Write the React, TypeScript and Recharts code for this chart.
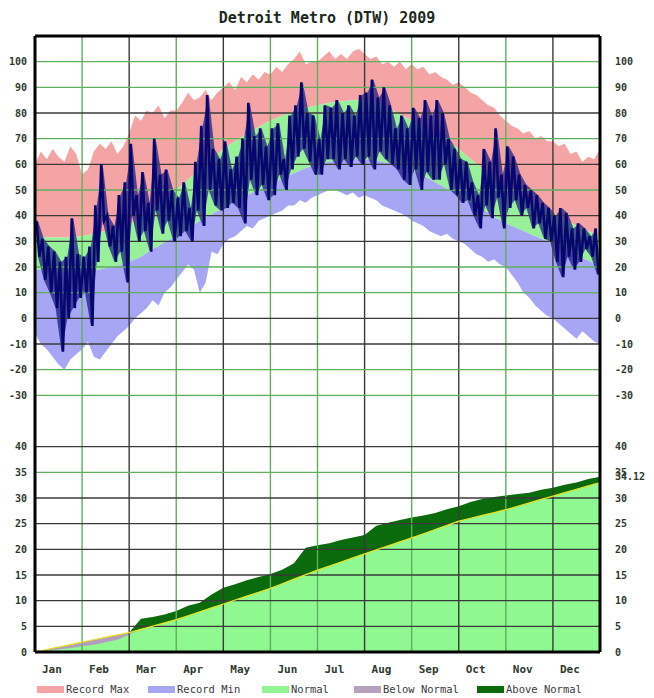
import React from 'react';
import { ComposedChart, XAxis, YAxis, Area, Line, ReferenceLine } from 'recharts';

const MONTHS = ['Jan', 'Feb', 'Mar', 'Apr', 'May', 'Jun', 'Jul', 'Aug', 'Sep', 'Oct', 'Nov', 'Dec'];
const MONTH_STARTS = [0, 1, 2, 3, 4, 5, 6, 7, 8, 9, 10, 11];
// grid colours of the month boundaries Feb..Dec
const MONTH_LINE = ['g', 'k', 'g', 'k', 'g', 'g', 'k', 'g', 'k', 'g', 'k'];

const TEMP_TICKS = [100, 90, 80, 70, 60, 50, 40, 30, 20, 10, 0, -10, -20, -30];
const TEMP_LINE = ['g', 'g', 'k', 'g', 'k', 'g', 'k', 'k', 'g', 'g', 'k', 'k', 'g', 'g'];
const PRECIP_TICKS = [40, 35, 30, 25, 20, 15, 10, 5];
const PRECIP_LINE = ['k', 'g', 'k', 'k', 'k', 'k', 'k', 'k'];
const PRECIP_TOTAL = 34.12;

// eight samples per month, Jan 1 .. Dec 31
const RECORD_MAX = [
  60, 65, 62, 66, 63, 61, 67, 64,
  56, 58, 65, 68, 66, 69, 64, 67,
  72, 79, 77, 81, 80, 83, 78, 81,
  81, 84, 88, 85, 86, 89, 85, 88,
  90, 92, 89, 94, 92, 95, 93, 96,
  95, 98, 96, 99, 101, 104, 99, 100,
  100, 102, 104, 101, 103, 101, 104, 105,
  103, 101, 102, 99, 100, 98, 100, 97,
  99, 97, 98, 95, 96, 94, 93, 91,
  92, 90, 88, 87, 85, 83, 82, 79,
  77, 75, 74, 72, 73, 70, 71, 69,
  69, 67, 68, 64, 65, 61, 63, 62, 66,
];
const RECORD_MIN = [
  -6, -10, -12, -15, -18, -20, -16, -14,
  -12, -9, -15, -16, -13, -10, -7, -5,
  -3, 0, 2, 4, 7, 5, 10, 12,
  15, 18, 21, 19, 10, 14, 26, 25,
  29, 31, 32, 34, 36, 35, 38, 39,
  40, 41, 42, 44, 44, 46, 45, 47,
  48, 49, 50, 50, 49, 48, 49, 47,
  48, 47, 46, 44, 43, 42, 41, 40,
  38, 37, 36, 34, 33, 32, 33, 31,
  30, 29, 27, 25, 24, 22, 23, 21,
  20, 17, 14, 10, 8, 5, 3, 1,
  0, -2, -4, -6, -8, -5, -7, -9, -10,
];
const NORMAL_HIGH = [
  32, 31.8, 31.5, 31.5, 31.5, 31.5, 31.5, 31.8,
  32, 32.5, 33, 33.5, 34, 34.5, 35, 35.7,
  36.5, 38, 39.5, 41.2, 43, 44.7, 46.5, 48.2,
  50, 52, 54, 56, 58, 60, 62, 64,
  66, 67.5, 69, 70.5, 72, 73.3, 74.5, 75.8,
  77, 78, 79, 79.8, 80.5, 81.3, 82, 82.5,
  83, 83.5, 84, 84.3, 84.5, 84.8, 85, 85,
  85, 84.5, 84, 83, 82, 80.8, 79.5, 78.3,
  77, 75.8, 74.5, 73, 71.5, 70.3, 69, 67.5,
  66, 64, 62, 60.3, 58.5, 56.5, 54.5, 52.8,
  51, 49.5, 48, 46.8, 45.5, 44.3, 43, 42,
  41, 39.8, 38.5, 37.3, 36, 35, 34, 33, 32,
];
const NORMAL_LOW = [
  19, 18.8, 18.5, 18.2, 18, 18, 18, 18,
  18, 18.2, 18.5, 19, 19.5, 20, 20.5, 21.2,
  22, 23, 24, 25.5, 27, 28.2, 29.5, 30.8,
  32, 33.5, 35, 36.5, 38, 39.3, 40.5, 41.8,
  43, 44.3, 45.5, 46.8, 48, 49, 50, 51,
  52, 53.3, 54.5, 55.5, 56.5, 57.5, 58.5, 59.3,
  60, 60.5, 61, 61.3, 61.5, 61.8, 62, 62,
  62, 61.8, 61.5, 61, 60.5, 60, 59.5, 58.8,
  58, 56.8, 55.5, 54.3, 53, 51.8, 50.5, 49.3,
  48, 46.5, 45, 43.8, 42.5, 41, 39.5, 38.3,
  37, 36, 35, 34, 33, 32, 31, 30,
  29, 28, 27, 25.8, 24.5, 23.5, 22.5, 21.3, 20,
];

// eight high/low samples per month
const DAILY_HIGH = [
  38, 31, 28, 26, 22, 24, 39, 25,
  24, 28, 44, 60, 40, 36, 48, 53,
  68, 48, 57, 45, 70, 56, 58, 50,
  47, 53, 43, 61, 75, 87, 66, 62,
  69, 58, 63, 70, 84, 71, 74, 67,
  74, 76, 62, 79, 83, 92, 80, 79,
  70, 83, 82, 85, 80, 83, 79, 87,
  88, 93, 86, 90, 83, 74, 79, 74,
  82, 78, 85, 79, 85, 80, 70, 66,
  62, 61, 53, 48, 66, 61, 74, 56,
  67, 63, 56, 52, 50, 48, 45, 43,
  40, 43, 41, 35, 37, 35, 32, 35,
];
const DAILY_LOW = [
  24, 15, 10, 4, -13, 0, 4, 8,
  10, -3, 22, 38, 28, 22, 26, 14,
  40, 30, 34, 26, 42, 33, 38, 30,
  32, 34, 30, 42, 36, 50, 44, 42,
  43, 45, 43, 37, 54, 48, 52, 46,
  48, 56, 50, 58, 63, 66, 61, 56,
  56, 62, 62, 58, 62, 59, 63, 60,
  63, 58, 65, 62, 60, 58, 54, 52,
  58, 50, 57, 54, 54, 60, 50, 48,
  45, 46, 40, 35, 44, 39, 47, 35,
  43, 46, 40, 43, 35, 37, 31, 30,
  22, 16, 24, 19, 22, 27, 24, 17,
];

// cumulative precipitation (inches), four samples per month
const PRECIP_NORMAL = [
  0, 0.48, 0.96, 1.43, 1.91, 2.38, 2.85, 3.32, 3.79, 4.42, 5.05, 5.68,
  6.31, 7.07, 7.84, 8.6, 9.36, 10.12, 10.89, 11.65, 12.41, 13.3, 14.19, 15.07,
  15.96, 16.75, 17.54, 18.33, 19.12, 19.9, 20.67, 21.45, 22.22, 23.04, 23.86, 24.67,
  25.49, 26.05, 26.61, 27.16, 27.72, 28.39, 29.05, 29.72, 30.38, 31.04, 31.7, 32.36, 33.02,
];
const PRECIP_ACTUAL = [
  0, 0.2, 0.5, 0.8, 1.1, 1.4, 1.9, 2.4, 3.4, 6.5, 6.8, 7.3,
  8.0, 9.0, 9.6, 11.2, 12.5, 13.2, 14.0, 14.6, 15.2, 16.0, 17.3, 20.3,
  20.8, 21.2, 21.8, 22.3, 22.8, 24.6, 25.2, 25.7, 26.2, 26.6, 27.1, 27.8,
  28.4, 29.2, 29.8, 30.2, 30.5, 30.8, 31.0, 31.6, 32.0, 32.6, 33.0, 33.7, 34.12,
];

const LEGEND = [
  { label: 'Record Max', color: '#f4a4a4', left: 37 },
  { label: 'Record Min', color: '#a6a6f4', left: 148 },
  { label: 'Normal', color: '#93f593', left: 262 },
  { label: 'Below Normal', color: '#b7a2bd', left: 354 },
  { label: 'Above Normal', color: '#0b6a0b', left: 477 },
];

const FONT = "'DejaVu Sans Mono', 'Liberation Mono', monospace";
const LABEL_FILL = '#2e3a2e';
const GRID = { g: '#5faf5f', k: '#3a3a3a' } as Record<string, string>;

const tempData = RECORD_MAX.map((v, i) => ({
  m: i / 8,
  rMax: v,
  rMin: RECORD_MIN[i],
  nHi: NORMAL_HIGH[i],
  nLo: NORMAL_LOW[i],
}));

const rangeData = DAILY_HIGH.map((hi, i) => ({ m: i / 8 + 1 / 16, hi, lo: DAILY_LOW[i] }));

const traceData = DAILY_HIGH.flatMap((hi, i) => [
  { m: i / 8 + 1 / 32, t: hi },
  { m: i / 8 + 3 / 32, t: DAILY_LOW[i] },
]);

const precipData = PRECIP_NORMAL.map((n, i) => ({ m: i / 4, normal: n, actual: PRECIP_ACTUAL[i] }));

const tickStyle = { fontFamily: FONT, fontSize: 10, fontWeight: 700, fill: LABEL_FILL };

const MonthTick = (props: any) => {
  const { x, y, payload } = props;
  return (
    <text x={x + 7} y={y + 13} fontFamily={FONT} fontSize={11} fontWeight={700} fill={LABEL_FILL}>
      {MONTHS[payload.value]}
    </text>
  );
};

const SideLabels = (props: any) => {
  const { viewBox, text, leftSide = true } = props;
  if (!viewBox) return null;
  return (
    <g>
      {leftSide && (
        <text x={viewBox.x - 8} y={viewBox.y} dy="0.355em" textAnchor="end" {...tickStyle}>
          {text}
        </text>
      )}
      <text x={viewBox.x + viewBox.width + 15} y={viewBox.y} dy="0.355em" textAnchor="start" {...tickStyle}>
        {text}
      </text>
    </g>
  );
};

export default function App() {
  return (
    <div style={{ position: 'absolute', left: 0, top: 0, width: 654, height: 698, background: '#fff' }}>
      <div
        style={{
          position: 'absolute',
          top: 9,
          left: 0,
          width: 654,
          textAlign: 'center',
          fontFamily: FONT,
          fontWeight: 700,
          fontSize: 15,
          color: '#1c281c',
        }}
      >
        Detroit Metro (DTW) 2009
      </div>
      <ComposedChart width={654} height={698} margin={{ top: 36, right: 0, bottom: 26, left: 0 }}>
        <XAxis
          type="number"
          dataKey="m"
          domain={[0, 12]}
          ticks={MONTH_STARTS}
          interval={0}
          allowDataOverflow
          axisLine={false}
          tickLine={false}
          height={20}
          tick={<MonthTick />}
        />
        <YAxis yAxisId="precip" type="number" domain={[0, 120]} allowDataOverflow hide width={0} />
        <YAxis
          yAxisId="temp"
          type="number"
          domain={[-130, 110]}
          ticks={TEMP_TICKS}
          interval={0}
          allowDataOverflow
          width={35}
          axisLine={false}
          tickLine={false}
          tick={tickStyle}
        />
        <YAxis
          yAxisId="tempR"
          orientation="right"
          type="number"
          domain={[-130, 110]}
          ticks={TEMP_TICKS}
          interval={0}
          allowDataOverflow
          width={54}
          axisLine={false}
          tickLine={false}
          tickMargin={9}
          tick={tickStyle}
        />

        {/* temperature bands */}
        <Area yAxisId="temp" data={tempData} dataKey={(d: any) => [d.nHi, d.rMax]} fill="#f4a4a4" fillOpacity={1} stroke="none" isAnimationActive={false} />
        <Area yAxisId="temp" data={tempData} dataKey={(d: any) => [d.nLo, d.nHi]} fill="#98f098" fillOpacity={1} stroke="none" isAnimationActive={false} />
        <Area yAxisId="temp" data={tempData} dataKey={(d: any) => [d.rMin, d.nLo]} fill="#a6a6f4" fillOpacity={1} stroke="none" isAnimationActive={false} />

        {/* precipitation */}
        <Area yAxisId="precip" data={precipData} dataKey="normal" fill="#90f890" fillOpacity={1} stroke="none" isAnimationActive={false} />
        <Area yAxisId="precip" data={precipData} dataKey={(d: any) => [d.normal, Math.max(d.actual, d.normal)]} fill="#0b6a0b" fillOpacity={1} stroke="none" isAnimationActive={false} />
        <Area yAxisId="precip" data={precipData} dataKey={(d: any) => [Math.min(d.actual, d.normal), d.normal]} fill="#b49cc0" fillOpacity={1} stroke="none" isAnimationActive={false} />

        {/* grid */}
        {MONTH_STARTS.slice(1).map((m, i) => (
          <ReferenceLine key={`v${m}`} yAxisId="temp" x={m} stroke={GRID[MONTH_LINE[i]]} strokeWidth={1.4} />
        ))}
        {TEMP_TICKS.map((t, i) => (
          <ReferenceLine key={`t${t}`} yAxisId="temp" y={t} stroke={GRID[TEMP_LINE[i]]} strokeWidth={1.4} />
        ))}
        {PRECIP_TICKS.map((p, i) => (
          <ReferenceLine
            key={`p${p}`}
            yAxisId="precip"
            y={p}
            stroke={GRID[PRECIP_LINE[i]]}
            strokeWidth={1.4}
            label={(lp: any) => <SideLabels {...lp} text={String(p)} />}
          />
        ))}
        <ReferenceLine
          yAxisId="precip"
          y={PRECIP_TOTAL}
          stroke="none"
          label={(lp: any) => <SideLabels {...lp} text={PRECIP_TOTAL.toFixed(2)} leftSide={false} />}
        />

        <Line yAxisId="precip" data={precipData} dataKey="normal" stroke="#e6e21c" strokeWidth={1.2} dot={false} isAnimationActive={false} />

        {/* daily temperature trace */}
        <Area yAxisId="temp" data={rangeData} dataKey={(d: any) => [d.lo, d.hi]} fill="#14147e" fillOpacity={0.7} stroke="none" isAnimationActive={false} />
        <Line yAxisId="temp" data={traceData} dataKey="t" stroke="#06066e" strokeWidth={2.6} dot={false} isAnimationActive={false} />

        {/* frame */}
        <ReferenceLine yAxisId="temp" y={110} stroke="#000" strokeWidth={3} />
        <ReferenceLine
          yAxisId="precip"
          y={0}
          stroke="#000"
          strokeWidth={3}
          label={(lp: any) => <SideLabels {...lp} text="0" />}
        />
        <ReferenceLine yAxisId="temp" x={0} stroke="#000" strokeWidth={3} />
        <ReferenceLine yAxisId="temp" x={12} stroke="#000" strokeWidth={3} />
      </ComposedChart>
      {LEGEND.map((item) => (
        <div
          key={item.label}
          style={{
            position: 'absolute',
            left: item.left,
            top: 683,
            display: 'flex',
            alignItems: 'center',
            fontFamily: FONT,
            fontSize: 10.5,
            color: '#3a3a3a',
          }}
        >
          <span style={{ display: 'inline-block', width: 27, height: 7, background: item.color, marginRight: 2 }} />
          {item.label}
        </div>
      ))}
    </div>
  );
}
